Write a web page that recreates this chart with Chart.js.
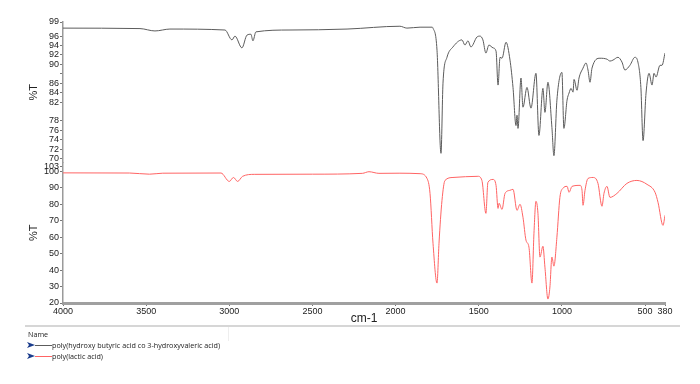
<!DOCTYPE html>
<html>
<head>
<meta charset="utf-8">
<script src="https://cdn.jsdelivr.net/npm/chart.js@4"></script>
<style>
  body { margin: 0; background: #fff; }
  #wrap { position: relative; width: 700px; height: 384px; overflow: hidden; }
  #chart { position: absolute; left: 0; top: 0; }
  .legend {
    position: absolute; left: 25px; top: 325px; width: 655px; height: 59px;
    border-top: 2px solid #d6d6d6;
    font-family: "Open Sans", "Noto Sans", sans-serif; font-size: 7.2px; color: #222;
  }
  .legend .sep { position: absolute; left: 203px; top: 0; width: 1px; height: 14px; background: #eee; }
  .legend .head { position: absolute; left: 3px; top: 2px; }
  .legend .row { position: absolute; left: 2px; height: 10px; line-height: 10px; white-space: nowrap; }
  .legend .row svg { position: absolute; left: 0; top: 2px; }
  .legend .row .swatch { position: absolute; left: 8px; top: 4.5px; width: 17px; height: 1.5px; }
  .legend .row span { position: absolute; left: 25px; top: 0; }
</style>
</head>
<body>
<div id="wrap">
  <canvas id="chart" width="700" height="384"></canvas>
  <div class="legend" id="legend">
    <div class="sep"></div>
    <div class="head">Name</div>
  </div>
</div>
<script>
// x values (cm-1) and %T for each spectrum
let phbvWavenumber = [4000, 3537, 3447, 3357, 3026, 2984, 2966, 2924, 2894, 2870, 2858, 2840, 2635, 2292, 1974, 1932, 1853,
    1781, 1775, 1751, 1727, 1715, 1691, 1655, 1601, 1583, 1565, 1547, 1511, 1493, 1475, 1457, 1439, 1414, 1396, 1384,
    1372, 1360, 1336, 1312, 1294, 1276, 1270, 1264, 1246, 1234, 1210, 1186, 1156, 1138, 1114, 1102, 1084, 1060, 1048,
    1030, 1000, 988, 969, 957, 945, 933, 927, 909, 897, 873, 855, 843, 831, 819, 771, 729, 711, 693, 663, 639, 621,
    591, 561, 543, 525, 512, 494, 476, 458, 446, 434, 410, 398, 380];
let phbvTransmittance = [97.7, 97.6, 97.1, 97.5, 97.3, 95.2, 96.0, 93.5, 96.2, 96.4, 95.0, 96.9, 97.3, 97.5, 98.1, 97.7, 97.9,
    97.9, 97.7, 93.0, 71.1, 86.0, 91.5, 93.7, 95.2, 94.1, 95.0, 93.7, 95.8, 96.0, 95.2, 92.4, 94.1, 93.5, 92.8, 85.6,
    91.5, 91.3, 94.7, 90.9, 85.1, 77.0, 79.2, 76.4, 87.1, 80.9, 85.1, 80.7, 88.1, 74.9, 84.9, 79.8, 86.2, 76.6, 70.6,
    82.4, 88.3, 76.4, 82.4, 83.9, 84.9, 84.1, 86.8, 84.5, 87.1, 89.2, 90.3, 88.8, 86.2, 89.2, 91.3, 91.1, 90.7, 90.9,
    91.5, 90.5, 88.8, 89.8, 91.5, 90.5, 85.1, 73.8, 83.9, 88.1, 85.6, 88.1, 87.3, 89.8, 89.8, 92.4];

let plaWavenumber = [4000, 3600, 3480, 3400, 3050, 3000, 2975, 2950, 2920, 2850, 2500, 2200, 2160, 2100, 1974, 1853, 1811,
    1793, 1775, 1751, 1739, 1721, 1703, 1655, 1505, 1481, 1457, 1445, 1414, 1396, 1384, 1378, 1360, 1342, 1312, 1294,
    1270, 1252, 1234, 1216, 1198, 1180, 1168, 1156, 1144, 1132, 1114, 1102, 1084, 1072, 1060, 1048, 1030, 1012, 994,
    969, 957, 939, 891, 879, 873, 861, 843, 813, 783, 759, 747, 729, 711, 669, 609, 549, 488, 440, 422, 392, 380];
let plaTransmittance = [99.1, 99.0, 98.3, 98.9, 99.0, 93.9, 96.3, 93.9, 97.0, 98.2, 98.3, 98.8, 99.8, 98.8, 98.9, 98.6, 95.7,
    86.6, 56.3, 32.1, 56.3, 82.4, 94.5, 96.3, 97.0, 94.5, 74.5, 93.3, 95.1, 91.5, 77.5, 80.6, 76.9, 86.6, 88.5, 89.1,
    76.3, 80.0, 72.1, 58.2, 53.9, 32.1, 62.4, 81.8, 74.5, 47.9, 54.5, 41.8, 22.4, 29.7, 47.9, 42.4, 60.0, 84.2, 89.7,
    90.9, 87.3, 90.9, 91.5, 88.5, 79.4, 88.5, 95.7, 96.3, 92.7, 78.8, 86.6, 90.9, 84.2, 86.6, 92.7, 94.5, 92.1, 87.3,
    81.2, 67.2, 73.3];

let seriesNames = ["poly(hydroxy butyric acid co 3-hydroxyvaleric acid)", "poly(lactic acid)"];
let seriesColors = ["#5c5c5c", "#ff6464"];

let xTicks = [4000, 3500, 3000, 2500, 2000, 1500, 1000, 500, 380];
let topTicks = [99, 96, 94, 92, 90, 88, 86, 84, 82, 78, 76, 74, 72, 70];
let topUnlabelled = [88];
let bottomTicks = [103, 100, 90, 80, 70, 60, 50, 40, 30, 20];

function toPoints(xs, ys) {
    return xs.map((x, i) => ({x: x, y: ys[i]}));
}

let tickFont = {family: "'Liberation Sans', Arial, sans-serif", size: 9};
let titleFont = {family: "'Liberation Sans', Arial, sans-serif", size: 11};

function yAxis(min, max, ticks, hidden) {
    return {
        type: 'linear',
        position: 'left',
        stack: 'spectra',
        stackWeight: 1,
        min: min,
        max: max,
        afterBuildTicks: s => { s.ticks = ticks.map(v => ({value: v})); },
        afterFit: s => { s.width = 63; },
        ticks: {
            font: tickFont, color: '#222', padding: 1, autoSkip: false,
            callback: v => hidden.includes(v) ? '' : String(v)
        },
        grid: {drawOnChartArea: false, tickLength: 3, color: '#777'},
        border: {color: '#9a9a9a', width: 1.5},
        title: {display: true, text: '%T', font: titleFont, color: '#222', padding: {top: 27, bottom: 0}}
    };
}

function initChart() {
    let datasets = [
        {wn: phbvWavenumber, t: phbvTransmittance, axis: 'yTop'},
        {wn: plaWavenumber, t: plaTransmittance, axis: 'yBottom'}
    ].map((s, i) => ({
        label: seriesNames[i],
        data: toPoints(s.wn, s.t),
        yAxisID: s.axis,
        borderColor: seriesColors[i],
        borderWidth: 1,
        pointRadius: 0,
        cubicInterpolationMode: 'monotone',
        fill: false
    }));

    new Chart(document.getElementById('chart'), {
        type: 'line',
        data: {datasets: datasets},
        options: {
            responsive: false,
            animation: false,
            layout: {padding: {left: 0, right: 35, top: 22, bottom: 54}},
            plugins: {legend: {display: false}, tooltip: {enabled: false}},
            scales: {
                x: {
                    type: 'linear',
                    reverse: true,
                    min: 380,
                    max: 4000,
                    afterBuildTicks: s => { s.ticks = xTicks.map(v => ({value: v})); },
                    afterFit: s => { s.height = 27; },
                    ticks: {font: tickFont, color: '#222', padding: 0, maxRotation: 0, autoSkip: false,
                        callback: v => String(v)},
                    grid: {drawOnChartArea: false, tickLength: 3, color: '#777'},
                    border: {color: '#a0a0a0', width: 3},
                    title: {display: true, text: 'cm-1', font: {family: "'Liberation Sans', Arial, sans-serif", size: 12}, color: '#222', padding: {top: 0, bottom: 4}}
                },
                // first axis of the stack is placed at the bottom
                yBottom: yAxis(20, 105.4, bottomTicks, []),
                yTop: yAxis(69.15, 99, topTicks, topUnlabelled)
            }
        }
    });

    // name list under the plot
    let legend = document.getElementById('legend');
    seriesNames.forEach((name, i) => {
        let row = document.createElement('div');
        row.className = 'row';
        row.style.top = (13 + i * 11) + 'px';
        row.innerHTML = '<svg width="8" height="6" viewBox="0 0 8 6"><polygon points="0,0 8,3 0,6 2,3" fill="#1a3c8c"/></svg>' +
            '<div class="swatch" style="background:' + seriesColors[i] + '"></div><span></span>';
        row.querySelector('span').textContent = name;
        legend.appendChild(row);
    });
}

window.onload = initChart;
</script>
</body>
</html>
